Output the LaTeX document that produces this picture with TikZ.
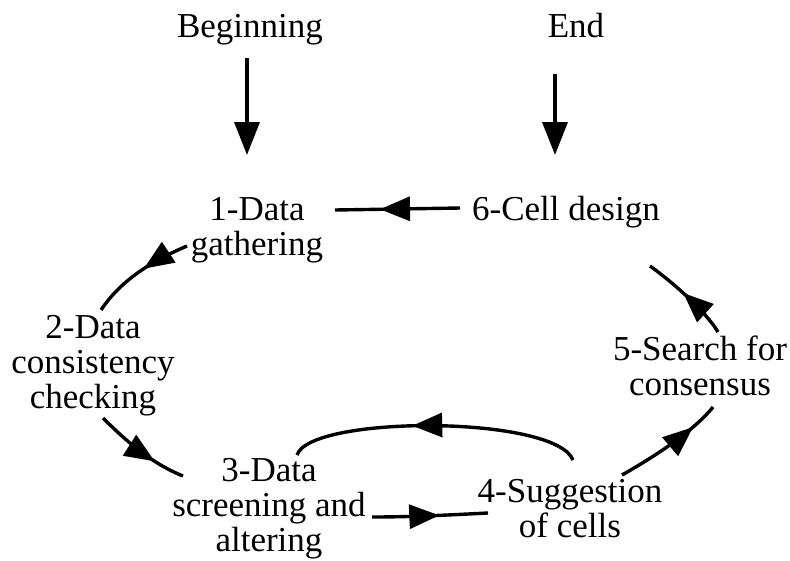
\documentclass[tikz,border=0pt]{standalone}
\usepackage{fontspec}
\setmainfont{Liberation Serif}
\usetikzlibrary{arrows.meta,decorations.markings,calc}
\tikzset{
  lbl/.style={font=\fontsize{35}{35}\selectfont, inner sep=0pt, align=center, anchor=base},
  conn/.style={line width=3.4pt},
  midarr/.style={postaction={decorate,decoration={markings,mark=at position #1 with {\arrow{Triangle[length=30pt,width=24pt]}}}}},
  startarr/.style={line width=3.5pt,-{Triangle[length=33pt,width=25pt]}}
}
\begin{document}
\begin{tikzpicture}[x=1pt,y=-1pt]
\useasboundingbox (0,0) rectangle (790,560);
% base anchor = baseline of the last line
\node[lbl] (beg) at (250,37) {Beginning};
\node[lbl] (end) at (576,37) {End};
\node[lbl] (n1) at (257,255) {1-Data\\gathering};
\node[lbl] (n6) at (566,220) {6-Cell design};
\node[lbl] (n2) at (93,408) {2-Data\\consistency\\checking};
\node[lbl] (n3) at (269,551) {3-Data\\screening and\\altering};
\node[lbl] (n4) at (570,537) {4-Suggestion\\of cells};
\node[lbl] (n5) at (700,395) {5-Search for\\consensus};

\draw[startarr] ($(beg.base)+(-3,21)$) -- ($(n1.base)+(-10,-100)$);
\draw[startarr] ($(end.base)+(-21,37)$) -- ($(n6.base)+(-11,-65)$);

\draw[conn,midarr=0.64] ($(n6.base)+(-106,-12)$) -- ($(n1.base)+(78,-45)$);
\draw[conn,midarr=0.45] ($(n1.base)+(-70,-9)$) .. controls +(-35,15) and +(20,-30) .. ($(n2.base)+(8,-98)$);
\draw[conn,midarr=0.68] ($(n2.base)+(10,10)$) .. controls +(25,25) and +(-30,-12) .. ($(n3.base)+(-86,-75)$);
\draw[conn,midarr=0.58] ($(n3.base)+(103,-34)$) .. controls +(40,0) and +(-40,2) .. ($(n4.base)+(-82,-24)$);
\draw[conn,midarr=0.58] ($(n4.base)+(3,-77)$) .. controls +(-18,-45) and +(13,-40) .. ($(n3.base)+(28,-96)$);
\draw[conn,midarr=0.75] ($(n4.base)+(52,-62)$) .. controls +(30,-17) and +(-20,25) .. ($(n5.base)+(13,12)$);
\draw[conn,midarr=0.55] ($(n5.base)+(18,-63)$) .. controls +(-12,-20) and +(25,18) .. ($(n6.base)+(84,46)$);
\end{tikzpicture}
\end{document}
